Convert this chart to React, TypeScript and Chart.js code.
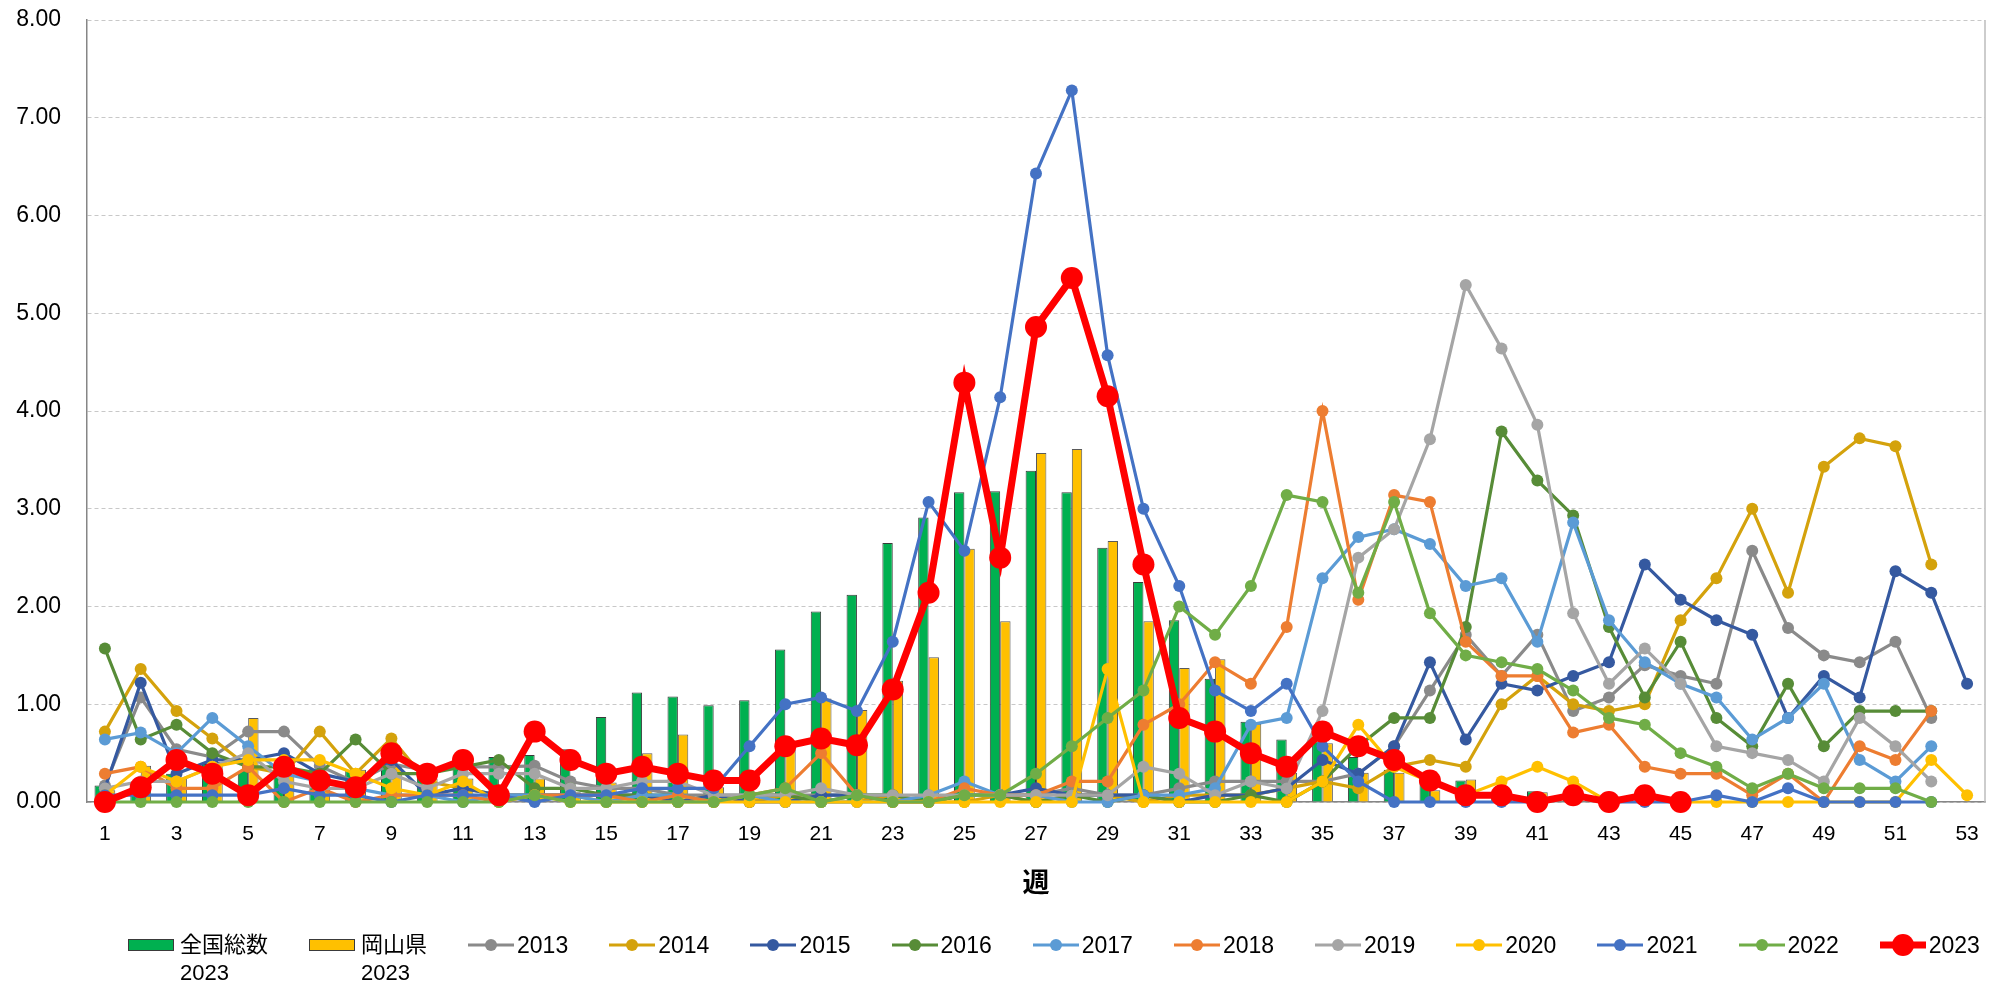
import React, { useEffect, useRef } from "react";
import { Chart, registerables } from "chart.js";

Chart.register(...registerables);

const weeks: string[] = [
  "1","2","3","4","5","6","7","8","9","10","11","12","13","14","15","16","17","18","19","20",
  "21","22","23","24","25","26","27","28","29","30","31","32","33","34","35","36","37","38","39","40",
  "41","42","43","44","45","46","47","48","49","50","51","52","53",
];

const yTicks: number[] = [0, 1, 2, 3, 4, 5, 6, 7, 8];

const national2023: number[] = [
  0.17, 0.10, 0.29, 0.39, 0.32, 0.31, 0.34, 0.33, 0.39, 0.36, 0.37, 0.46, 0.48, 0.54, 0.87, 1.12, 1.08, 0.99, 1.04, 1.56,
  1.95, 2.12, 2.65, 2.91, 3.17, 3.18, 3.39, 3.17, 2.60, 2.25, 1.86, 1.26, 0.82, 0.64, 0.62, 0.46, 0.33, 0.22, 0.22, 0.09,
  0.11, 0.05, 0.03, 0.02, 0.02,
];

const okayama2023: number[] = [
  0.12, 0.37, 0.24, 0.41, 0.86, 0.27, 0.24, 0.33, 0.37, 0.24, 0.24, 0.10, 0.24, 0.10, 0.20, 0.50, 0.69, 0.15, 0.10, 0.54,
  1.06, 0.94, 1.24, 1.48, 2.59, 1.85, 3.57, 3.61, 2.67, 1.85, 1.37, 1.46, 0.80, 0.30, 0.60, 0.30, 0.30, 0.12, 0.23, 0.07,
  0.10, 0.05, 0.00, 0.00, 0.00,
];

const y2013: (number | null)[] = [
  0.17, 1.07, 0.54, 0.46, 0.72, 0.72, 0.37, 0.20, 0.39, 0.32, 0.36, 0.36, 0.37, 0.21, 0.14, 0.14, 0.07, 0.07, 0.07, 0.07,
  0.07, 0.07, 0.07, 0.00, 0.07, 0.07, 0.07, 0.14, 0.07, 0.07, 0.14, 0.21, 0.21, 0.21, 0.21, 0.29, 0.57, 1.14, 1.71, 1.29,
  1.71, 0.93, 1.07, 1.40, 1.29, 1.21, 2.57, 1.78, 1.50, 1.43, 1.64, 0.86, null,
];

const y2014: (number | null)[] = [
  0.72, 1.36, 0.93, 0.65, 0.36, 0.29, 0.72, 0.29, 0.65, 0.21, 0.14, 0.07, 0.07, 0.07, 0.00, 0.07, 0.00, 0.07, 0.00, 0.07,
  0.00, 0.00, 0.07, 0.00, 0.00, 0.07, 0.00, 0.07, 0.07, 0.00, 0.07, 0.07, 0.07, 0.14, 0.21, 0.14, 0.36, 0.43, 0.36, 1.00,
  1.29, 1.00, 0.93, 1.00, 1.86, 2.29, 3.00, 2.14, 3.43, 3.72, 3.64, 2.43, null,
];

const y2015: (number | null)[] = [
  0.14, 1.22, 0.29, 0.43, 0.43, 0.50, 0.29, 0.21, 0.43, 0.07, 0.14, 0.07, 0.07, 0.07, 0.07, 0.07, 0.00, 0.07, 0.00, 0.00,
  0.07, 0.07, 0.00, 0.00, 0.07, 0.07, 0.14, 0.07, 0.07, 0.07, 0.00, 0.07, 0.07, 0.14, 0.43, 0.29, 0.57, 1.43, 0.64, 1.21,
  1.14, 1.29, 1.43, 2.43, 2.07, 1.86, 1.71, 0.86, 1.29, 1.07, 2.36, 2.14, 1.21,
];

const y2016: (number | null)[] = [
  1.57, 0.64, 0.79, 0.50, 0.36, 0.36, 0.29, 0.64, 0.29, 0.29, 0.36, 0.43, 0.14, 0.14, 0.07, 0.07, 0.07, 0.00, 0.07, 0.07,
  0.00, 0.07, 0.07, 0.00, 0.07, 0.07, 0.00, 0.07, 0.00, 0.07, 0.00, 0.00, 0.07, 0.00, 0.21, 0.57, 0.86, 0.86, 1.79, 3.79,
  3.29, 2.93, 1.79, 1.07, 1.64, 0.86, 0.57, 1.21, 0.57, 0.93, 0.93, 0.93, null,
];

const y2017: (number | null)[] = [
  0.64, 0.71, 0.50, 0.86, 0.57, 0.29, 0.21, 0.14, 0.07, 0.07, 0.00, 0.07, 0.07, 0.07, 0.00, 0.07, 0.07, 0.00, 0.07, 0.00,
  0.00, 0.00, 0.00, 0.07, 0.21, 0.07, 0.07, 0.00, 0.00, 0.07, 0.07, 0.14, 0.79, 0.86, 2.29, 2.71, 2.79, 2.64, 2.21, 2.29,
  1.64, 2.86, 1.86, 1.43, 1.21, 1.07, 0.64, 0.86, 1.21, 0.43, 0.21, 0.57, null,
];

const y2018: (number | null)[] = [
  0.29, 0.36, 0.14, 0.14, 0.36, 0.00, 0.14, 0.00, 0.07, 0.07, 0.07, 0.00, 0.07, 0.07, 0.07, 0.00, 0.07, 0.00, 0.07, 0.14,
  0.50, 0.07, 0.00, 0.00, 0.14, 0.07, 0.07, 0.21, 0.21, 0.79, 1.00, 1.43, 1.21, 1.79, 4.00, 2.07, 3.14, 3.07, 1.64, 1.29,
  1.29, 0.71, 0.79, 0.36, 0.29, 0.29, 0.07, 0.29, 0.00, 0.57, 0.43, 0.93, null,
];

const y2019: (number | null)[] = [
  0.14, 0.21, 0.21, 0.36, 0.50, 0.21, 0.14, 0.14, 0.29, 0.14, 0.29, 0.29, 0.29, 0.14, 0.14, 0.21, 0.21, 0.07, 0.07, 0.07,
  0.14, 0.07, 0.07, 0.07, 0.07, 0.07, 0.07, 0.07, 0.07, 0.36, 0.29, 0.07, 0.21, 0.14, 0.93, 2.50, 2.79, 3.71, 5.29, 4.64,
  3.86, 1.93, 1.21, 1.57, 1.21, 0.57, 0.50, 0.43, 0.21, 0.86, 0.57, 0.21, null,
];

const y2020: (number | null)[] = [
  0.07, 0.36, 0.21, 0.36, 0.43, 0.43, 0.43, 0.29, 0.14, 0.07, 0.21, 0.00, 0.07, 0.00, 0.00, 0.00, 0.00, 0.00, 0.00, 0.00,
  0.00, 0.00, 0.00, 0.00, 0.00, 0.00, 0.00, 0.00, 1.36, 0.00, 0.00, 0.00, 0.00, 0.00, 0.21, 0.79, 0.36, 0.21, 0.07, 0.21,
  0.36, 0.21, 0.00, 0.07, 0.00, 0.00, 0.00, 0.00, 0.00, 0.00, 0.00, 0.43, 0.07,
];

const y2021: (number | null)[] = [
  0.07, 0.07, 0.07, 0.07, 0.07, 0.14, 0.07, 0.07, 0.00, 0.07, 0.07, 0.07, 0.00, 0.07, 0.07, 0.14, 0.14, 0.14, 0.57, 1.00,
  1.07, 0.93, 1.64, 3.07, 2.57, 4.14, 6.43, 7.28, 4.57, 3.00, 2.21, 1.14, 0.93, 1.21, 0.57, 0.21, 0.00, 0.00, 0.00, 0.00,
  0.00, 0.07, 0.00, 0.00, 0.00, 0.07, 0.00, 0.14, 0.00, 0.00, 0.00, 0.00, null,
];

const y2022: (number | null)[] = [
  0.00, 0.00, 0.00, 0.00, 0.00, 0.00, 0.00, 0.00, 0.00, 0.00, 0.00, 0.00, 0.07, 0.00, 0.00, 0.00, 0.00, 0.00, 0.07, 0.14,
  0.00, 0.07, 0.00, 0.00, 0.07, 0.07, 0.29, 0.57, 0.86, 1.14, 2.00, 1.71, 2.21, 3.14, 3.07, 2.14, 3.07, 1.93, 1.50, 1.43,
  1.36, 1.14, 0.86, 0.79, 0.50, 0.36, 0.14, 0.29, 0.14, 0.14, 0.14, 0.00, null,
];

const y2023: (number | null)[] = [
  0.00, 0.15, 0.43, 0.29, 0.07, 0.36, 0.22, 0.15, 0.50, 0.29, 0.43, 0.07, 0.72, 0.43, 0.29, 0.36, 0.29, 0.22, 0.22, 0.57,
  0.65, 0.58, 1.15, 2.14, 4.29, 2.50, 4.86, 5.36, 4.15, 2.43, 0.86, 0.72, 0.50, 0.36, 0.72, 0.57, 0.43, 0.22, 0.07, 0.07,
  0.00, 0.07, 0.00, 0.07, 0.00, null, null, null, null, null, null, null, null,
];

const barLabels: string[][] = [["全国総数", "2023"], ["岡山県", "2023"]];
const barColors: string[] = ["#00B050", "#FFC000"];

const lineNames: string[] = ["2013", "2014", "2015", "2016", "2017", "2018", "2019", "2020", "2021", "2022", "2023"];
const lineSeries = [y2013, y2014, y2015, y2016, y2017, y2018, y2019, y2020, y2021, y2022, y2023];
const lineColors: string[] = [
  "#8A8A8A", "#D4A20C", "#3559A0", "#578C37", "#5B9BD5", "#ED7D31", "#A5A5A5", "#FFC000", "#4472C4", "#70AD47", "#FF0000",
];

const FONT = "'Liberation Sans', Arial, 'Noto Sans CJK JP', sans-serif";
const CJK = "'Liberation Sans', 'Noto Sans CJK JP', sans-serif";

export default function App() {
  const canvasRef = useRef<HTMLCanvasElement | null>(null);

  useEffect(() => {
    document.body.style.margin = "0";
    document.body.style.overflow = "hidden";
    const canvas = canvasRef.current;
    if (!canvas) return;

    const rightBorder = {
      id: "rightBorder",
      beforeDatasetsDraw(chart: any) {
        const { ctx, chartArea } = chart;
        ctx.save();
        ctx.strokeStyle = "#BDBDBD";
        ctx.lineWidth = 1.5;
        ctx.beginPath();
        ctx.moveTo(chartArea.right, chartArea.top);
        ctx.lineTo(chartArea.right, chartArea.bottom);
        ctx.stroke();
        ctx.restore();
      },
    };

    const datasets: any[] = [
      {
        type: "bar",
        label: barLabels[0].join(" "),
        data: national2023,
        backgroundColor: barColors[0],
        borderColor: "#3A3A3A",
        borderWidth: 1,
        categoryPercentage: 0.58,
        barPercentage: 1.0,
        order: 98,
      },
      {
        type: "bar",
        label: barLabels[1].join(" "),
        data: okayama2023,
        backgroundColor: barColors[1],
        borderColor: "#5A5A5A",
        borderWidth: 1,
        categoryPercentage: 0.58,
        barPercentage: 1.0,
        order: 99,
      },
    ];

    lineSeries.forEach((s, i) => {
      const isMain = i === lineSeries.length - 1;
      datasets.push({
        type: "line",
        label: lineNames[i],
        data: s,
        borderColor: lineColors[i],
        backgroundColor: lineColors[i],
        pointBackgroundColor: lineColors[i],
        pointBorderColor: lineColors[i],
        borderWidth: isMain ? 7 : 3.2,
        pointRadius: isMain ? 11 : 6,
        pointBorderWidth: 0,
        tension: 0,
        spanGaps: false,
        clip: false,
        order: isMain ? 0 : 50 - i,
      });
    });

    const chart = new Chart(canvas, {
      type: "bar",
      data: { labels: weeks, datasets },
      options: {
        animation: false,
        responsive: false,
        devicePixelRatio: 1,
        layout: { padding: { left: 0, right: 24, top: 20, bottom: 0 } },
        plugins: {
          legend: { display: false },
          tooltip: { enabled: false },
        },
        scales: {
          x: {
            type: "category",
            offset: true,
            grid: { display: false, drawTicks: false },
            border: { display: true, color: "#868686", width: 1.5 },
            ticks: {
              autoSkip: false,
              maxRotation: 0,
              minRotation: 0,
              padding: 20,
              color: "#000000",
              font: { family: FONT, size: 21 },
              callback: (_v: any, idx: number) => (idx % 2 === 0 ? weeks[idx] : ""),
            },
            title: {
              display: true,
              text: "週",
              color: "#000000",
              font: { family: CJK, size: 27, weight: "bold" },
              padding: { top: 0, bottom: 84 },
            },
            afterFit: (scale: any) => {
              scale.height = 183;
            },
          },
          y: {
            min: 0,
            max: 8,
            afterBuildTicks: (scale: any) => {
              scale.ticks = yTicks.map((v) => ({ value: v }));
            },
            grid: { color: "#C8C8C8", lineWidth: 1, drawTicks: false },
            border: { display: true, color: "#868686", width: 1.5, dash: [4, 3] },
            ticks: {
              padding: 26,
              color: "#000000",
              font: { family: FONT, size: 23 },
              callback: (v: any) => Number(v).toFixed(2),
            },
            afterFit: (scale: any) => {
              scale.width = 87;
              scale.paddingTop = 12;
              scale.paddingBottom = 12;
            },
          },
        },
      },
      plugins: [rightBorder],
    });

    return () => {
      chart.destroy();
    };
  }, []);

  const textStyle: React.CSSProperties = {
    fontFamily: CJK,
    fontSize: 22,
    lineHeight: "28px",
    color: "#000",
    whiteSpace: "nowrap",
  };

  return (
    <div style={{ position: "relative", width: 2009, height: 985, background: "#fff", overflow: "hidden" }}>
      <canvas ref={canvasRef} width={2009} height={985} style={{ display: "block", width: 2009, height: 985 }} />
      <div
        style={{
          position: "absolute",
          left: 128,
          top: 931,
          display: "flex",
          alignItems: "flex-start",
          gap: 41,
        }}
      >
        {barLabels.map((lab, i) => (
          <div key={"b" + i} style={{ display: "flex", alignItems: "flex-start", gap: 6 }}>
            <div style={{ width: 46, height: 28, display: "flex", alignItems: "center" }}>
              <div
                style={{
                  width: 44,
                  height: 10,
                  background: barColors[i],
                  border: "1px solid #3A3A3A",
                }}
              />
            </div>
            <div style={textStyle}>
              {lab.map((t, j) => (
                <div key={j}>{t}</div>
              ))}
            </div>
          </div>
        ))}
        {lineNames.map((name, i) => {
          const isMain = i === lineNames.length - 1;
          return (
            <div key={"l" + i} style={{ display: "flex", alignItems: "flex-start", gap: 3 }}>
              <svg width={46} height={28} style={{ display: "block" }}>
                <line
                  x1={0}
                  y1={14}
                  x2={46}
                  y2={14}
                  stroke={lineColors[i]}
                  strokeWidth={isMain ? 7 : 3.2}
                />
                <circle cx={23} cy={14} r={isMain ? 11 : 6} fill={lineColors[i]} />
              </svg>
              <div style={{ ...textStyle, fontSize: 23 }}>{name}</div>
            </div>
          );
        })}
      </div>
    </div>
  );
}
